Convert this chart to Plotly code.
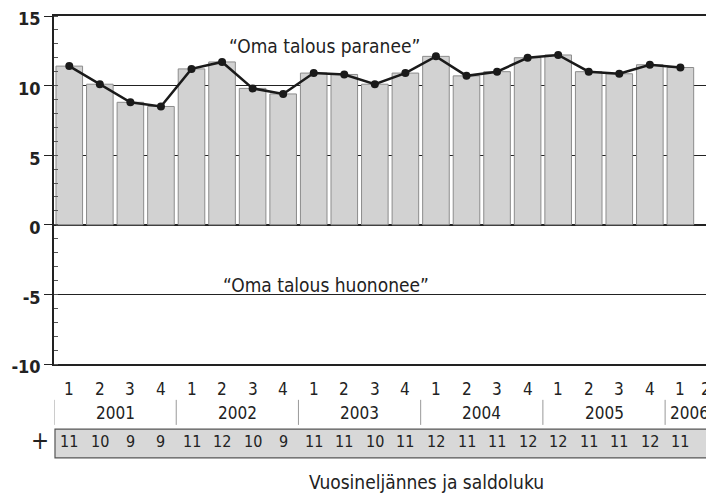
import plotly.graph_objects as go

# ---- data ----
quarters = ["1", "2", "3", "4"] * 5 + ["1", "2"]
years = ["2001", "2002", "2003", "2004", "2005", "2006"]
saldo = [11.4, 10.1, 8.8, 8.5, 11.2, 11.7, 9.8, 9.4, 10.9, 10.8,
         10.1, 10.9, 12.1, 10.7, 11.0, 12.0, 12.2, 11.0, 10.85, 11.5, 11.3]
saldo_rounded = ["11", "10", "9", "9", "11", "12", "10", "9", "11", "11",
                 "10", "11", "12", "11", "11", "12", "12", "11", "11", "12", "11"]
y_tickvals = [-10, -5, 0, 5, 10, 15]
y_ticktext = ["-10", "-5", "0", "5", "10", "15"]
label_up = "“Oma talous paranee”"
label_down = "“Oma talous huononee”"
x_title = "Vuosineljännes ja saldoluku"

FONT = "Liberation Sans Narrow, DejaVu Sans Condensed, Roboto, Arial, sans-serif"
DARK = "#222222"

x_idx = list(range(len(saldo)))

fig = go.Figure()
fig.add_trace(go.Bar(
    x=x_idx, y=saldo, width=0.87,
    marker=dict(color="#d2d2d2", line=dict(color="#8c8c8c", width=1)),
    hoverinfo="skip", showlegend=False,
))
fig.add_trace(go.Scatter(
    x=x_idx, y=saldo, mode="lines+markers",
    line=dict(color="#1a1a1a", width=2.5),
    marker=dict(color="#1a1a1a", size=8),
    showlegend=False,
))


def note(x, y, text, xref="x", yref="paper", size=16):
    return dict(x=x, y=y, xref=xref, yref=yref, text=text, showarrow=False,
                xanchor="center", yanchor="middle",
                font=dict(size=size, color=DARK, family=FONT))


ann = []
quarter_pos = list(range(len(quarters) - 1)) + [20.85]
for xp, q in zip(quarter_pos, quarters):
    ann.append(note(xp, -0.072, q, size=17))
year_pos = [1.5, 5.5, 9.5, 13.5, 17.5, 20.3]
for xp, yr in zip(year_pos, years):
    ann.append(note(xp, -0.141, yr, size=17))
for i, v in enumerate(saldo_rounded):
    ann.append(note(i, -0.2215, v, size=16))
ann.append(note(-0.021, -0.2215, "+", xref="paper", size=24))
ann.append(note(0.565, -0.339, x_title, xref="paper", size=19))
ann.append(note(8.35, 12.85, label_up, yref="y", size=19))
ann.append(note(8.4, -4.3, label_down, yref="y", size=19))

shapes = []
for xs in [-0.5, 3.5, 7.5, 11.5, 15.5, 19.5]:
    shapes.append(dict(type="line", xref="x", yref="paper", x0=xs, x1=xs,
                       y0=-0.103, y1=-0.175, line=dict(color="#999999", width=1)))
shapes.append(dict(type="rect", xref="paper", yref="paper", x0=0.0015, x1=1.0,
                   y0=-0.187, y1=-0.270, fillcolor="#d8d8d8",
                   line=dict(color="#555555", width=1.2), layer="below"))

# the page body has an 8px default margin, so the figure is sized to fit
fig.update_layout(
    width=706, height=486,
    margin=dict(l=46, r=0, t=8, b=130, autoexpand=False),
    paper_bgcolor="white", plot_bgcolor="white",
    annotations=ann, shapes=shapes,
    font=dict(family=FONT, color=DARK),
    xaxis=dict(range=[-0.5, 21.1], showticklabels=False, ticks="",
               showgrid=False, zeroline=False, showline=True, mirror=True,
               linecolor=DARK, linewidth=1.5, fixedrange=True),
    yaxis=dict(range=[-10, 15], tickmode="array", tickvals=y_tickvals,
               ticktext=y_ticktext, showgrid=True,
               gridcolor=DARK, gridwidth=1.2,
               zeroline=True, zerolinecolor=DARK, zerolinewidth=1.5,
               showline=True, linecolor=DARK, linewidth=1.5,
               ticks="outside", ticklen=8, tickcolor=DARK, tickwidth=1,
               ticklabeloverflow="allow", ticklabelshift=3,
               tickfont=dict(size=18, color=DARK, family=FONT, weight="bold"),
               minor=dict(dtick=1, tick0=0, ticks="inside", ticklen=4,
                          tickcolor="#555555", showgrid=False),
               fixedrange=True),
)

fig.write_html("out.html")
